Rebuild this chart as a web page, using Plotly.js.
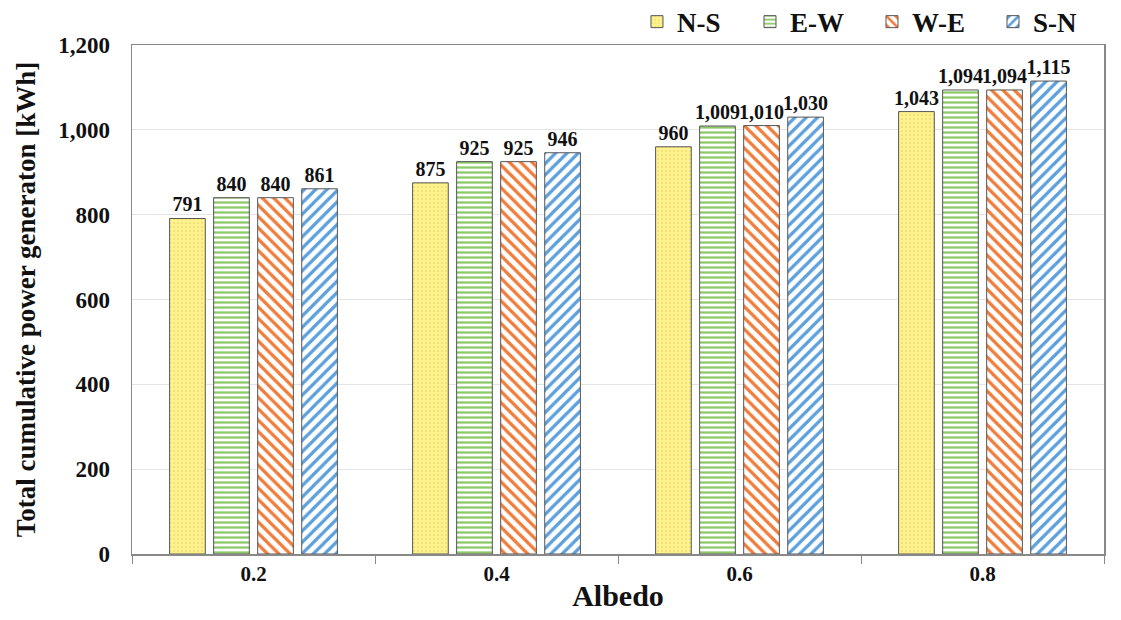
<!DOCTYPE html>
<html>
<head>
<meta charset="utf-8">
<script src="https://cdn.plot.ly/plotly-3.0.1.min.js"></script>
<style>html,body{margin:0;padding:0;background:#fff;}#chart{width:1121px;height:620px;}</style>
</head>
<body>
<div id="chart"></div>
<script>
// Albedo categories and cumulative generation per orientation [kWh]
const albedo = ['0.2', '0.4', '0.6', '0.8'];
const seriesNames = ['N-S', 'E-W', 'W-E', 'S-N'];
const valNS = [791, 875, 960, 1043];
const valEW = [840, 925, 1009, 1094];
const valWE = [840, 925, 1010, 1094];
const valSN = [861, 946, 1030, 1115];
const yTicks = [0, 200, 400, 600, 800, 1000, 1200];

const FONT = 'Liberation Serif, Times New Roman, serif';

const styles = [
  {shape: '.', bg: '#fff38f', fg: '#f3e27a', size: 4, solidity: 0.3},
  {shape: '-', bg: '#ffffff', fg: '#8cc866', size: 5, solidity: 0.45},
  {shape: '\\', bg: '#ffffff', fg: '#f07c3a', size: 8, solidity: 0.4},
  {shape: '/', bg: '#ffffff', fg: '#5b9fdc', size: 8, solidity: 0.4}
];
const values = [valNS, valEW, valWE, valSN];

// one legend box per series so the entries sit on a fixed spacing
const legendIds = ['legend', 'legend2', 'legend3', 'legend4'];
const legendX = [0.5195, 0.6358, 0.7613, 0.8858];

const traces = values.map((v, i) => ({
  type: 'bar',
  name: seriesNames[i],
  legend: legendIds[i],
  x: albedo,
  y: v,
  texttemplate: '%{y:,}',
  textposition: 'outside',
  constraintext: 'none',
  cliponaxis: false,
  textfont: {family: FONT, size: 20, color: '#111', weight: 'bold'},
  marker: {
    color: styles[i].bg,
    line: {color: '#555', width: 1},
    pattern: {
      shape: styles[i].shape,
      bgcolor: styles[i].bg,
      fgcolor: styles[i].fg,
      size: styles[i].size,
      solidity: styles[i].solidity
    }
  }
}));

const layout = {
  width: 1121,
  height: 620,
  margin: {l: 132, r: 17, t: 45, b: 66, autoexpand: false},
  paper_bgcolor: '#fff',
  plot_bgcolor: '#fff',
  barmode: 'group',
  bargap: 0.275,
  bargroupgap: 0.19,
  font: {family: FONT, color: '#111'},
  showlegend: true,
  xaxis: {
    type: 'category',
    tickson: 'boundaries',
    ticks: 'outside',
    ticklen: 8,
    tickcolor: '#888',
    showline: true,
    linecolor: '#888',
    linewidth: 1.5,
    mirror: true,
    tickfont: {family: FONT, size: 21, weight: 'bold', color: '#111'},
    title: {text: 'Albedo', font: {family: FONT, size: 30, weight: 'bold', color: '#111'}, standoff: 0}
  },
  yaxis: {
    range: [0, 1200],
    tickvals: yTicks,
    ticktext: yTicks.map(t => t.toLocaleString('en-US')),
    ticks: '',
    showgrid: true,
    gridcolor: '#e4e4e4',
    gridwidth: 1,
    showline: true,
    linecolor: '#888',
    linewidth: 1.5,
    mirror: true,
    zeroline: false,
    tickfont: {family: FONT, size: 23, weight: 'bold', color: '#111'},
    ticklabelstandoff: 16,
    title: {text: 'Total cumulative power generaton [kWh]', font: {family: FONT, size: 27, weight: 'bold', color: '#111'}, standoff: 14}
  }
};

legendIds.forEach((id, i) => {
  layout[id] = {
    orientation: 'h',
    x: legendX[i], xanchor: 'left',
    y: 1.045, yanchor: 'middle',
    bgcolor: 'rgba(0,0,0,0)',
    font: {family: FONT, size: 27, color: '#111', weight: 'bold'},
    itemwidth: 30
  };
});

Plotly.newPlot('chart', traces, layout, {displayModeBar: false, staticPlot: true});
</script>
</body>
</html>
